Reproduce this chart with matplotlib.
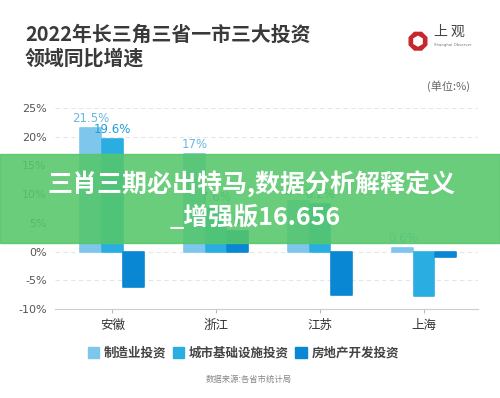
import numpy as np
import matplotlib
matplotlib.use("Agg")
import matplotlib.pyplot as plt
from matplotlib.patches import RegularPolygon, Rectangle

plt.rcParams['font.family'] = ['Noto Sans CJK SC', 'DejaVu Sans']

# data
regions = ["安徽", "浙江", "江苏", "上海"]
series_names = ["制造业投资", "城市基础设施投资", "房地产开发投资"]
manufacturing = [21.5, 17.0, 8.8, 0.6]
infrastructure = [19.6, 7.6, 8.2, -7.7]
real_estate = [-6.1, 3.5, -7.6, -1.0]
yticks = [-10, -5, 0, 5, 10, 15, 20, 25]

colors = ["#7ec6ec", "#2aaee2", "#0a87d3"]
label_colors = ["#6ab8e0", "#1e9fd6", "#0a7fc8"]

fig = plt.figure(figsize=(5.0, 3.98), dpi=100)
ax = fig.add_axes([0.11, 0.2236, 0.846, 0.505])

x = np.arange(len(regions))
width = 0.2
offsets = [-0.205, 0.0, 0.205]
all_series = [manufacturing, infrastructure, real_estate]

for i, vals in enumerate(all_series):
    bars = ax.bar(x + offsets[i], vals, width, color=colors[i],
                  edgecolor=colors[i], linewidth=1.2, joinstyle="round",
                  zorder=3)
    for b, v in zip(bars, vals):
        if v > 0:
            txt = f"{v:g}%"
            ax.text(b.get_x() + b.get_width() / 2, v + 0.6, txt,
                    ha="center", va="bottom", fontsize=8.5,
                    color=label_colors[i], family="DejaVu Sans", zorder=4)

ax.set_ylim(-10, 25)
ax.set_xlim(-0.55, 3.52)
ax.set_yticks(yticks)
ax.set_yticklabels([f"{t}%" for t in yticks], fontsize=8, color="#555555",
                   family="DejaVu Sans")
ax.set_xticks(x)
ax.set_xticklabels(regions, fontsize=9, color="#333333")
ax.tick_params(axis="y", length=0, pad=6)
ax.tick_params(axis="x", length=3, color="#bbbbbb", pad=4)

for t in yticks[1:]:
    ax.axhline(t, color="#e6e6e6", linewidth=0.8, linestyle=(0, (4, 3)),
               zorder=1)
for s in ["top", "right", "left"]:
    ax.spines[s].set_visible(False)
ax.spines["bottom"].set_color("#cccccc")
ax.spines["bottom"].set_linewidth(0.8)

# title
fig.text(0.05, 0.915, "2022年长三角三省一市三大投资", fontsize=14.3,
         fontweight="bold", color="#3a3a3a", va="center")
fig.text(0.05, 0.853, "领域同比增速", fontsize=14.3,
         fontweight="bold", color="#3a3a3a", va="center")
fig.text(0.94, 0.783, "(单位:%)", fontsize=8, color="#666666",
         ha="right", va="center")

# logo
lax = fig.add_axes([0.815, 0.87, 0.042, 0.053])
lax.set_aspect("equal")
lax.add_patch(RegularPolygon((0, 0), 8, radius=1.0, color="#c8262c",
                             orientation=np.pi / 8))
lax.add_patch(RegularPolygon((0, 0), 6, radius=0.5, color="white"))
lax.set_xlim(-1.1, 1.1)
lax.set_ylim(-1.1, 1.1)
lax.axis("off")
fig.text(0.868, 0.92, "上 观", fontsize=10, color="#444444", va="center")
fig.text(0.867, 0.888, "Shanghai Observer", fontsize=2.8, color="#777777",
         va="center", family="DejaVu Sans")

# legend
handles = [Rectangle((0, 0), 1, 1, color=c) for c in colors]
fig.legend(handles, series_names, loc="center", bbox_to_anchor=(0.487, 0.112),
           ncol=3, frameon=False, handlelength=0.9,
           handleheight=0.9, handletextpad=0.4, columnspacing=0.5,
           labelcolor="#444444", prop={"weight": "bold", "size": 9})
fig.text(0.497, 0.048, "数据来源:各省市统计局", fontsize=6, color="#888888",
         ha="center", va="center")

# overlay banner
fig.patches.append(Rectangle((0, 1 - 243 / 398), 1, 89 / 398,
                             transform=fig.transFigure, color="#55c769",
                             alpha=0.88, zorder=10))
fig.text(0.502, 1 - 184 / 398, "三肖三期必出特马,数据分析解释定义", fontsize=18,
         fontweight="bold", color="white", ha="center", va="center", zorder=11)
fig.text(0.51, 1 - 217 / 398, "_增强版16.656", fontsize=18,
         fontweight="bold", color="white", ha="center", va="center", zorder=11)

fig.savefig("out.png", dpi=100, facecolor="white")
